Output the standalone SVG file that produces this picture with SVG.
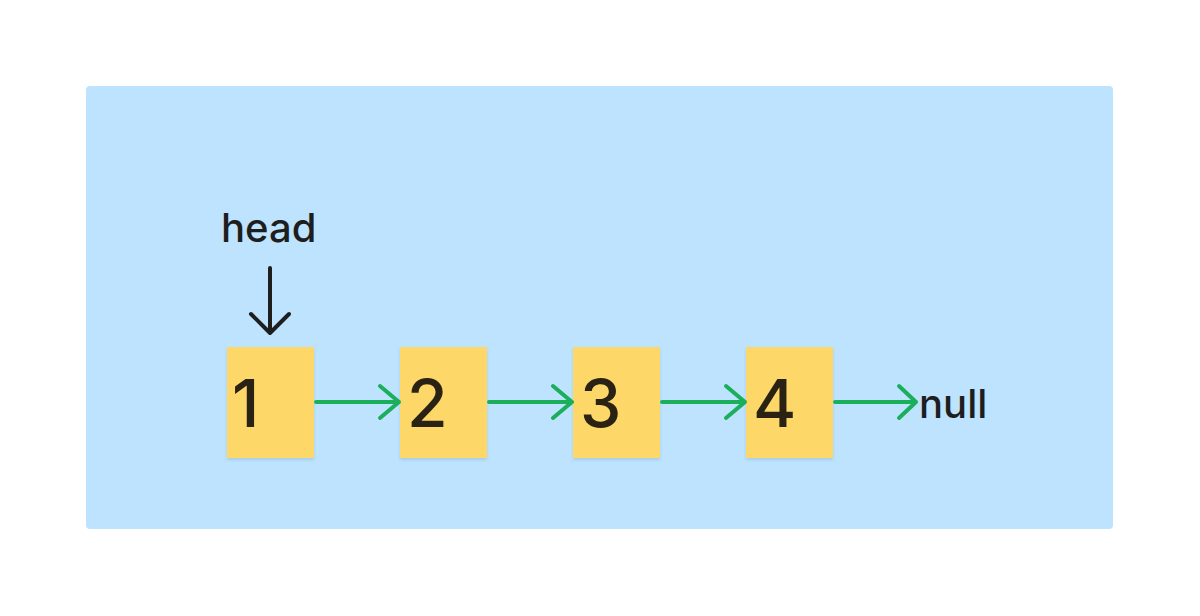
<svg xmlns="http://www.w3.org/2000/svg" width="1200" height="616" viewBox="0 0 1200 616">
<defs>
<style>
.node rect{fill:#fdd868;}
.num{font-family:Inter,"Liberation Sans",sans-serif;font-size:66px;font-weight:500;fill:#2a2313;}
.lbl{font-family:Inter,"Liberation Sans",sans-serif;font-size:40px;font-weight:500;fill:#1e1e1e;}
.link{stroke:#1bae5b;stroke-width:4;fill:none;stroke-linecap:round;stroke-linejoin:round;}
.ptr{stroke:#1e1e1e;stroke-width:4;fill:none;stroke-linecap:round;stroke-linejoin:round;}
</style>
<filter id="sh" x="-20%" y="-20%" width="140%" height="140%">
<feDropShadow dx="0" dy="2" stdDeviation="1.5" flood-color="#5a8ab0" flood-opacity="0.25"/>
</filter>
</defs>
<rect width="1200" height="616" fill="#ffffff"/>
<rect x="86" y="86" width="1027" height="443" rx="4" fill="#bde3fe"/>
<g id="head">
<text class="lbl" x="221" y="242">head</text>
<path class="ptr" d="M270 268 V333 M251 314 L270 333 L289 314"/>
</g>
<g id="node1" class="node"><rect x="227" y="347" width="87" height="111" filter="url(#sh)"/><text class="num" x="232" y="427">1</text></g>
<g id="node2" class="node"><rect x="400" y="347" width="87" height="111" filter="url(#sh)"/><text class="num" x="407" y="427">2</text></g>
<g id="node3" class="node"><rect x="573" y="347" width="87" height="111" filter="url(#sh)"/><text class="num" x="580" y="427">3</text></g>
<g id="node4" class="node"><rect x="746" y="347" width="87" height="111" filter="url(#sh)"/><text class="num" x="753" y="427">4</text></g>
<g id="null"><text class="lbl" x="919" y="418">null</text></g>
<g id="connectors">
<path class="link" d="M316 402 H399 M380 386 L399 402 L380 418"/>
<path class="link" d="M489 402 H572 M553 386 L572 402 L553 418"/>
<path class="link" d="M662 402 H745 M726 386 L745 402 L726 418"/>
<path class="link" d="M835 402 H916 M899 386 L916 402 L899 418"/>
</g>
</svg>
